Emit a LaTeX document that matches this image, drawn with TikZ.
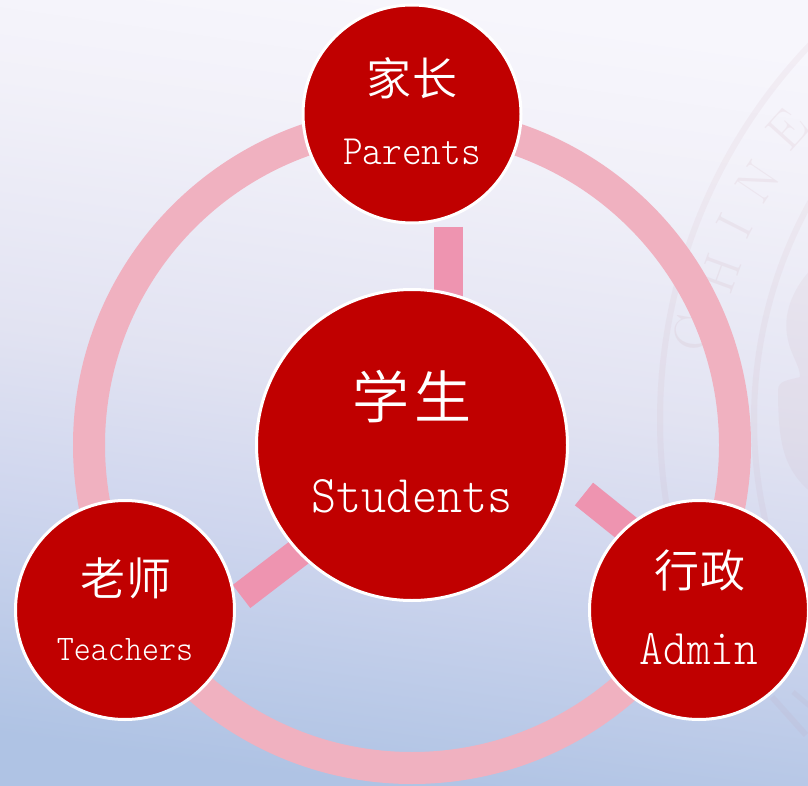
\documentclass[tikz,border=0pt]{standalone}
\usepackage{fontspec}
\newfontfamily\cjk{Noto Sans CJK SC}[UprightFont=* DemiLight]
\setmonofont{Latin Modern Mono Light}[FakeStretch=0.9]
\definecolor{bgA}{HTML}{F7F6FC}
\definecolor{bgB}{HTML}{F2F1F9}
\definecolor{bgC}{HTML}{E2E3F2}
\definecolor{bgD}{HTML}{CFD6EE}
\definecolor{bgE}{HTML}{AFC3E4}
\definecolor{ringPink}{HTML}{F0B1C0}
\definecolor{linkPink}{HTML}{EE94B0}
\definecolor{hubRed}{HTML}{C00000}
\definecolor{sealInk}{HTML}{C08C98}
\pgfdeclareverticalshading{bgfade}{100bp}{color(0bp)=(bgE); color(25bp)=(bgE); color(40.1bp)=(bgD); color(50.7bp)=(bgC); color(66.5bp)=(bgB); color(75bp)=(bgA); color(100bp)=(bgA)}
\tikzset{
  x=1pt,y=-1pt,
  hubcircle/.style={circle,fill=hubRed,draw=white,line width=3pt,inner sep=0pt,outer sep=0pt},
  linkbar/.style={linkPink,line width=29pt},
  cntext/.style={white,inner sep=0pt,font=\cjk},
  entext/.style={white,inner sep=0pt,anchor=base,font=\ttfamily},
  sealring/.style={circle,draw=sealInk,draw opacity=.08,line width=6pt,inner sep=0pt},
  sealtext/.style={sealInk,text opacity=.11,inner sep=0pt,font=\fontsize{52}{52}\selectfont}
}
\begin{document}
\begin{tikzpicture}
\useasboundingbox (0,0) rectangle (808,786);
\begin{scope}
\clip (0,0) rectangle (808,786);
\shade[shading=bgfade,shading angle=-8] (0,0) rectangle (808,786);
\begin{scope}
\clip (600,0) rectangle (808,690);
\node[sealring,minimum size=1088pt] (sealOuter) at (1204,420) {};
\node[sealring,minimum size=900pt] (sealInner) at (1204,420) {};
\end{scope}
\node[sealtext,rotate=80] (sealC) at (693,333) {C};
\node[sealtext,rotate=70] (sealH) at (720,273) {H};
\node[sealtext,rotate=63] (sealI) at (735,226) {I};
\node[sealtext,rotate=56] (sealN) at (758,182) {N};
\node[sealtext,rotate=48] (sealE) at (787,130) {E};
\fill[sealInk,opacity=.08] (815,265) .. controls (795,285) and (783,310) .. (787,335) .. controls (790,355) and (800,365) .. (800,377) .. controls (790,380) and (778,380) .. (778,390) .. controls (778,420) and (780,440) .. (785,455) .. controls (790,470) and (800,485) .. (815,495) -- cycle;
\draw[sealInk,opacity=.08,line width=6pt] (772,697) -- (806,735);
\draw[sealInk,opacity=.08,line width=5pt] (793,692) -- (812,708);
\end{scope}
\node[circle,draw=ringPink,line width=32pt,minimum size=646pt,inner sep=0pt] (ring) at (412,445) {};
\coordinate (topA) at (448.5,227);
\coordinate (topB) at (448.5,320);
\coordinate (rightA) at (584,494);
\coordinate (rightB) at (650,547);
\coordinate (leftA) at (241.5,596.5);
\coordinate (leftB) at (310,544);
\draw[linkbar] (topA) -- (topB);
\draw[linkbar] (rightA) -- (rightB);
\draw[linkbar] (leftA) -- (leftB);
\node[hubcircle,minimum size=218pt] (parents) at (412,114) {};
\node[hubcircle,minimum size=219pt] (teachers) at (125,610) {};
\node[hubcircle,minimum size=219pt] (admin) at (699,610) {};
\node[hubcircle,minimum size=311pt] (students) at (412,445) {};
\node[cntext] (parentsCn) at (412,78) {\fontsize{45}{45}\selectfont 家\hspace{2pt}长};
\node[entext] (parentsEn) at (412,165) {\fontsize{41.7}{41.7}\selectfont Parents};
\node[cntext] (teachersCn) at (126,578) {\fontsize{45}{45}\selectfont 老\hspace{2pt}师};
\node[entext] (teachersEn) at (125,660) {\fontsize{36}{36}\selectfont Teachers};
\node[cntext] (adminCn) at (700,570) {\fontsize{45}{45}\selectfont 行\hspace{2pt}政};
\node[entext] (adminEn) at (699,664) {\fontsize{50}{50}\selectfont Admin};
\node[cntext] (studentsCn) at (412,397) {\fontsize{57}{57}\selectfont 学\hspace{6pt}生};
\node[entext] (studentsEn) at (412,512) {\fontsize{53}{53}\selectfont Students};
\end{tikzpicture}
\end{document}
